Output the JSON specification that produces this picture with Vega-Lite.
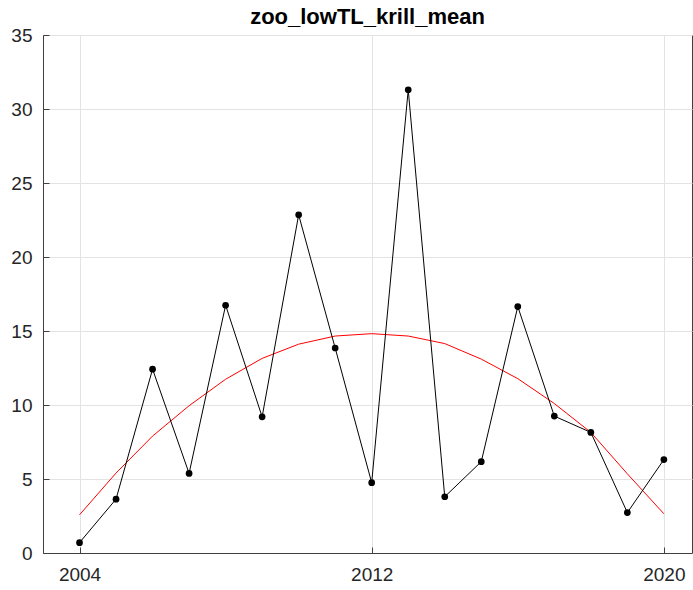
{
  "$schema": "https://vega.github.io/schema/vega-lite/v6.json",
  "autosize": "none",
  "width": 649,
  "height": 518,
  "padding": {"left": 43, "top": 35, "right": 1, "bottom": 37},
  "background": "white",
  "view": {"stroke": "#404040", "strokeWidth": 1},
  "title": {
    "text": "zoo_lowTL_krill_mean",
    "font": "Liberation Sans",
    "fontSize": 22,
    "fontWeight": "bold",
    "color": "#000000",
    "anchor": "middle",
    "offset": -3
  },
  "config": {
    "axis": {
      "labelFont": "Liberation Sans",
      "labelFontSize": 19,
      "labelColor": "#262626",
      "domainColor": "#404040",
      "tickColor": "#404040",
      "gridColor": "#e3e3e3",
      "gridWidth": 1,
      "title": null
    }
  },
  "data": {
    "values": [
      {"year": 2004, "krill": 0.70, "fit": 2.58},
      {"year": 2005, "krill": 3.64, "fit": 5.40},
      {"year": 2006, "krill": 12.42, "fit": 7.90},
      {"year": 2007, "krill": 5.38, "fit": 9.95},
      {"year": 2008, "krill": 16.74, "fit": 11.74},
      {"year": 2009, "krill": 9.20, "fit": 13.15},
      {"year": 2010, "krill": 22.85, "fit": 14.11},
      {"year": 2011, "krill": 13.85, "fit": 14.66},
      {"year": 2012, "krill": 4.75, "fit": 14.82},
      {"year": 2013, "krill": 31.30, "fit": 14.66},
      {"year": 2014, "krill": 3.80, "fit": 14.15},
      {"year": 2015, "krill": 6.17, "fit": 13.10},
      {"year": 2016, "krill": 16.65, "fit": 11.78},
      {"year": 2017, "krill": 9.25, "fit": 10.10},
      {"year": 2018, "krill": 8.15, "fit": 8.15},
      {"year": 2019, "krill": 2.73, "fit": 5.35},
      {"year": 2020, "krill": 6.31, "fit": 2.65}
    ]
  },
  "encoding": {
    "x": {
      "field": "year",
      "type": "quantitative",
      "scale": {"domain": [2003, 2020.77], "nice": false, "zero": false},
      "axis": {"values": [2004, 2012, 2020], "format": "d", "tickSize": -6, "labelPadding": 18, "grid": true}
    }
  },
  "layer": [
    {
      "mark": {"type": "line", "color": "#ff0000", "strokeWidth": 1},
      "encoding": {
        "y": {
          "field": "fit",
          "type": "quantitative",
          "scale": {"domain": [0, 35], "nice": false},
          "axis": {"values": [0, 5, 10, 15, 20, 25, 30, 35], "tickSize": -6, "labelPadding": 17, "grid": true}
        }
      }
    },
    {
      "mark": {"type": "line", "color": "#000000", "strokeWidth": 1},
      "encoding": {"y": {"field": "krill", "type": "quantitative"}}
    },
    {
      "mark": {"type": "point", "filled": true, "color": "#000000", "opacity": 1, "size": 45},
      "encoding": {"y": {"field": "krill", "type": "quantitative"}}
    }
  ]
}
